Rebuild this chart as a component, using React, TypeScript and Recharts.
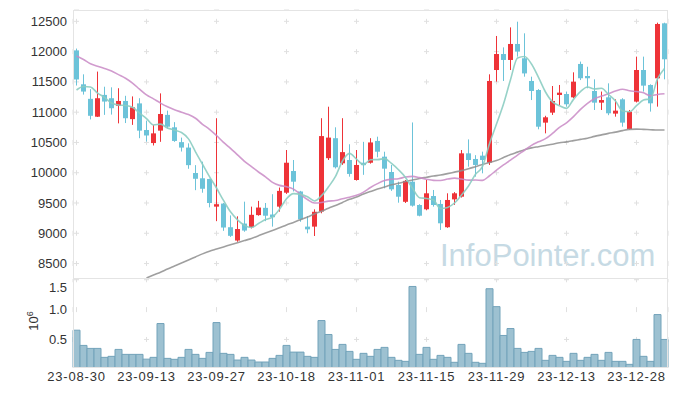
import { ComposedChart, Bar, Line, XAxis, YAxis, CartesianGrid } from "recharts";

const dates = [
  "23-08-30", "23-08-31", "23-09-01", "23-09-04", "23-09-05", "23-09-06", "23-09-07", "23-09-08", "23-09-11", "23-09-12",
  "23-09-13", "23-09-14", "23-09-15", "23-09-18", "23-09-19", "23-09-20", "23-09-21", "23-09-22", "23-09-25", "23-09-26",
  "23-09-27", "23-10-04", "23-10-05", "23-10-06", "23-10-10", "23-10-11", "23-10-12", "23-10-13", "23-10-16", "23-10-17",
  "23-10-18", "23-10-19", "23-10-20", "23-10-23", "23-10-24", "23-10-25", "23-10-26", "23-10-27", "23-10-30", "23-10-31",
  "23-11-01", "23-11-02", "23-11-03", "23-11-06", "23-11-07", "23-11-08", "23-11-09", "23-11-10", "23-11-13", "23-11-14",
  "23-11-15", "23-11-16", "23-11-17", "23-11-20", "23-11-21", "23-11-22", "23-11-23", "23-11-24", "23-11-27", "23-11-28",
  "23-11-29", "23-11-30", "23-12-01", "23-12-04", "23-12-05", "23-12-06", "23-12-07", "23-12-08", "23-12-11", "23-12-12",
  "23-12-13", "23-12-14", "23-12-15", "23-12-18", "23-12-19", "23-12-20", "23-12-21", "23-12-22", "23-12-26", "23-12-27",
  "23-12-28", "24-01-02", "24-01-03", "24-01-04", "24-01-05",
];

const openPrices = [
  12020, 11460, 11220, 10925, 11285, 11230, 11105, 11185, 10885, 11145,
  10705, 10490, 10695, 10955, 10750, 10505, 10415, 9995, 9908, 9897,
  9440, 9490, 9100, 8880, 9160, 9100, 9300, 9420, 9310, 9440,
  9670, 10028, 9690, 9110, 9110, 9360, 10240, 10570, 10155, 10210,
  9880, 10165, 10165, 10525, 10265, 10012, 9797, 9520, 9852, 9467,
  9396, 9615, 9484, 9100, 9560, 9604, 10320, 10227, 10282, 10167,
  11696, 11960, 11862, 12126, 11890, 11515, 11366, 10827, 10992, 11284,
  11300, 11245, 11796, 11597, 11350, 11157, 11245, 10976, 11212, 10722,
  11174, 11696, 11449, 11559, 12467,
];

const highPrices = [
  12050, 11625, 11380, 11670, 11420, 11410, 11395, 11270, 11260, 11230,
  10860, 10790, 11310, 11025, 10835, 10580, 10485, 10125, 10183, 9900,
  10900, 9500, 9295, 9280, 9522, 9440, 9535, 9500, 9645, 9755,
  10375, 10210, 9700, 9285, 9395, 10900, 11090, 10750, 10900, 10470,
  10375, 10510, 10570, 10595, 10347, 10128, 9852, 9880, 10830, 9480,
  9880, 9715, 9550, 9660, 9680, 10375, 10550, 10290, 10348, 11625,
  12258, 12070, 12400, 12494, 12302, 11586, 11380, 10940, 11432, 11449,
  11340, 11658, 11835, 11750, 11542, 11340, 11476, 11212, 11230, 11036,
  11917, 11917, 11460, 12478, 12478,
];

const lowPrices = [
  11440, 11290, 10880, 10920, 10955, 10960, 10815, 10820, 10790, 10570,
  10515, 10450, 10510, 10730, 10510, 10350, 10065, 9712, 9670, 9428,
  9200, 9040, 8940, 8860, 9025, 9080, 9290, 9200, 9110, 9357,
  9650, 9690, 9190, 9000, 8955, 9330, 10210, 10070, 10130, 9935,
  9870, 9965, 10150, 10255, 9742, 9700, 9505, 9500, 9440, 9280,
  9380, 9440, 9055, 9090, 9470, 9590, 10100, 9935, 9990, 10128,
  11504, 11515, 11696, 11917, 11586, 11200, 10717, 10650, 10954, 11119,
  11090, 11230, 11530, 11394, 11036, 11036, 10950, 10926, 10760, 10710,
  11160, 11340, 11009, 11091, 11542,
];

const closePrices = [
  11540, 11340, 10940, 11230, 11175, 11065, 11185, 10900, 11080, 10695,
  10615, 10650, 10970, 10760, 10525, 10415, 10125, 9900, 9735, 9500,
  9480, 9095, 8958, 9070, 9045, 9305, 9425, 9290, 9265, 9700,
  10165, 9852, 9230, 9065, 9355, 10605, 10580, 10090, 10340, 9980,
  10128, 10125, 10500, 10347, 10067, 9726, 9604, 9865, 9456, 9290,
  9660, 9467, 9165, 9550, 9660, 10320, 10210, 10128, 10210, 11515,
  11960, 11862, 12126, 12000, 11640, 11350, 10760, 10915, 11185, 11322,
  11130, 11504, 11560, 11560, 11157, 11200, 10981, 11025, 10827, 11009,
  11696, 11438, 11146, 12456, 11873,
];

const ma5 = [
  11366, 11425, 11415, 11316, 11245, 11150, 11119, 11111, 11081, 10985,
  10895, 10788, 10802, 10738, 10704, 10664, 10559, 10345, 10140, 9935,
  9748, 9542, 9354, 9221, 9130, 9095, 9161, 9227, 9266, 9397,
  9569, 9654, 9642, 9602, 9533, 9621, 9767, 9939, 10194, 10319,
  10224, 10133, 10215, 10216, 10233, 10153, 10049, 9922, 9744, 9588,
  9575, 9548, 9408, 9426, 9500, 9632, 9781, 9974, 10106, 10477,
  10805, 11135, 11535, 11893, 11918, 11796, 11575, 11333, 11170, 11106,
  11062, 11211, 11340, 11415, 11382, 11396, 11292, 11185, 11018, 11008,
  11108, 11199, 11223, 11549, 11722,
];

const ma20 = [
  11927, 11870, 11800, 11760, 11720, 11680, 11620, 11560, 11480, 11380,
  11284, 11220, 11150, 11090, 11040, 11000, 10960, 10900, 10800, 10717,
  10614, 10502, 10403, 10295, 10188, 10100, 10012, 9932, 9841, 9791,
  9769, 9729, 9642, 9557, 9499, 9508, 9531, 9541, 9571, 9595,
  9627, 9679, 9756, 9820, 9871, 9892, 9901, 9929, 9939, 9919,
  9893, 9874, 9871, 9895, 9910, 9896, 9878, 9879, 9873, 9950,
  10041, 10128, 10209, 10292, 10371, 10452, 10510, 10562, 10649, 10750,
  10824, 10926, 11045, 11146, 11221, 11265, 11303, 11348, 11379, 11354,
  11340, 11319, 11270, 11293, 11305,
];

const ma60 = [
  null, null, null, null, null, null, null, null, null, null,
  8260, 8310, 8357, 8410, 8460, 8510, 8560, 8610, 8660, 8705,
  8740, 8775, 8810, 8845, 8880, 8915, 8960, 9005, 9045, 9090,
  9137, 9180, 9225, 9270, 9320, 9365, 9415, 9460, 9510, 9560,
  9600, 9650, 9690, 9730, 9765, 9800, 9825, 9855, 9880, 9905,
  9925, 9945, 9962, 9985, 10010, 10035, 10065, 10100, 10135, 10170,
  10200, 10250, 10300, 10340, 10380, 10410, 10430, 10450, 10470, 10495,
  10510, 10530, 10550, 10570, 10600, 10625, 10650, 10670, 10695, 10715,
  10720, 10715, 10710, 10705, 10705,
];

// volume in millions of shares
const volumes = [
  0.655, 0.4, 0.35, 0.35, 0.2, 0.217, 0.333, 0.25, 0.25, 0.25,
  0.17, 0.2, 0.767, 0.183, 0.167, 0.2, 0.333, 0.25, 0.183, 0.283,
  0.783, 0.267, 0.25, 0.155, 0.2, 0.155, 0.122, 0.122, 0.183, 0.233,
  0.4, 0.288, 0.288, 0.217, 0.2, 0.817, 0.583, 0.333, 0.417, 0.3,
  0.167, 0.267, 0.217, 0.333, 0.367, 0.2, 0.15, 0.133, 1.388, 0.25,
  0.367, 0.167, 0.233, 0.2, 0.117, 0.417, 0.267, 0.117, 0.1, 1.35,
  1.05, 0.567, 0.683, 0.35, 0.283, 0.3, 0.35, 0.15, 0.233, 0.2,
  0.133, 0.267, 0.15, 0.2, 0.25, 0.15, 0.283, 0.133, 0.133, 0.083,
  0.5, 0.217, 0.133, 0.917, 0.5,
];

const priceTicks = [8500, 9000, 9500, 10000, 10500, 11000, 11500, 12000, 12500];
const volumeTicks = [0.5, 1.0, 1.5];

const UP = "#ee3338";
const DOWN = "#6cc3d9";
const TEXT = "#333";

const rows = dates.map((date, i) => ({
  date,
  open: openPrices[i],
  high: highPrices[i],
  low: lowPrices[i],
  close: closePrices[i],
  range: [lowPrices[i], highPrices[i]],
  ma5: ma5[i],
  ma20: ma20[i],
  ma60: ma60[i],
  volume: volumes[i],
}));

const Candle = (props: any) => {
  const { x, y, width, height, payload } = props;
  const { open, close, high, low } = payload;
  const color = close >= open ? UP : DOWN;
  const k = height / (high - low);
  const cx = x + width / 2;
  const top = y + (high - Math.max(open, close)) * k;
  const bodyH = Math.max(Math.abs(open - close) * k, 1);
  return (
    <g>
      <line x1={cx} x2={cx} y1={y} y2={y + height} stroke={color} strokeWidth={1} />
      <rect x={cx - 2.5} y={top} width={5} height={bodyH} fill={color} />
    </g>
  );
};

const tickStyle = { fill: TEXT, fontSize: 13 };
const dateTickStyle = { fill: TEXT, fontSize: 13, letterSpacing: 0.8 };

export default function App() {
  return (
    <div
      style={{
        position: "absolute",
        left: 0,
        top: 0,
        width: 677,
        height: 396,
        background: "#fff",
        fontFamily: "'Liberation Sans', Arial, sans-serif",
        overflow: "hidden",
      }}>
      {/* watermark */}
      <div
        style={{
          position: "absolute",
          left: 440,
          top: 240,
          fontSize: 31,
          lineHeight: 1,
          color: "#c6dae4",
          whiteSpace: "nowrap",
        }}>
        InfoPointer.com
      </div>

      <ComposedChart
        width={677}
        height={279}
        data={rows}
        barCategoryGap={0}
        margin={{ top: 10, right: 9, bottom: 0, left: 0 }}
        style={{ position: "absolute", left: 0, top: 0 }}>
        <XAxis dataKey="date" interval={9} hide />
        <YAxis
          domain={[8245, 12687]}
          allowDataOverflow
          ticks={priceTicks}
          width={73}
          axisLine={false}
          tickLine={false}
          tickSize={4}
          tickMargin={2}
          tick={tickStyle}
        />
        <CartesianGrid
          vertical={false}
          stroke="#e0e0e0"
          strokeDasharray="5 65"
          strokeDashoffset={69}
        />
        <CartesianGrid
          horizontal={false}
          stroke="#e0e0e0"
          strokeDasharray="5 25.279"
          strokeDashoffset={21.459}
        />
        <Bar dataKey="range" shape={<Candle />} isAnimationActive={false} />
        <Line
          type="monotone"
          dataKey="ma60"
          stroke="#8e8e8e"
          strokeWidth={1.6}
          strokeOpacity={0.85}
          dot={false}
          isAnimationActive={false}
        />
        <Line
          type="monotone"
          dataKey="ma20"
          stroke="#c98ac5"
          strokeWidth={1.6}
          strokeOpacity={0.85}
          dot={false}
          isAnimationActive={false}
        />
        <Line
          type="monotone"
          dataKey="ma5"
          stroke="#8ccdc2"
          strokeWidth={1.6}
          strokeOpacity={0.9}
          dot={false}
          isAnimationActive={false}
        />
      </ComposedChart>

      <ComposedChart
        width={677}
        height={117}
        data={rows}
        barCategoryGap={0}
        margin={{ top: 0, right: 9, bottom: 0, left: 0 }}
        style={{ position: "absolute", left: 0, top: 279 }}>
        <XAxis
          dataKey="date"
          interval={9}
          height={28.5}
          axisLine={false}
          tickLine={false}
          tickSize={2}
          tickMargin={2}
          tick={dateTickStyle}
        />
        <YAxis
          domain={[0.03, 1.513]}
          allowDataOverflow
          ticks={volumeTicks}
          tickFormatter={(v: number) => v.toFixed(1)}
          width={73}
          axisLine={false}
          tickLine={false}
          tickSize={4}
          tickMargin={2}
          tick={tickStyle}
        />
        <CartesianGrid
          vertical={false}
          stroke="#e0e0e0"
          strokeDasharray="5 65"
          strokeDashoffset={69}
        />
        <CartesianGrid
          horizontal={false}
          stroke="#e0e0e0"
          strokeDasharray="5 24.84"
          strokeDashoffset={1.72}
        />
        <Bar
          dataKey="volume"
          fill="#9dc1d1"
          stroke="#73a3ba"
          strokeWidth={1}
          isAnimationActive={false}
        />
      </ComposedChart>

      {/* frame and panel separator */}
      <div
        style={{
          position: "absolute",
          left: 73,
          top: 10,
          width: 595,
          height: 358,
          boxSizing: "border-box",
          border: "1px solid #e4e4e4",
          pointerEvents: "none",
        }}
      />
      <div
        style={{
          position: "absolute",
          left: 73,
          top: 278,
          width: 595,
          height: 1,
          background: "#e4e4e4",
        }}
      />

      {/* volume unit */}
      <div
        style={{
          position: "absolute",
          left: 33,
          top: 321,
          transform: "translate(-50%, -50%) rotate(-90deg)",
          fontSize: 13,
          lineHeight: 1,
          color: TEXT,
          whiteSpace: "nowrap",
        }}>
        10<sup style={{ fontSize: 9 }}>6</sup>
      </div>
    </div>
  );
}
